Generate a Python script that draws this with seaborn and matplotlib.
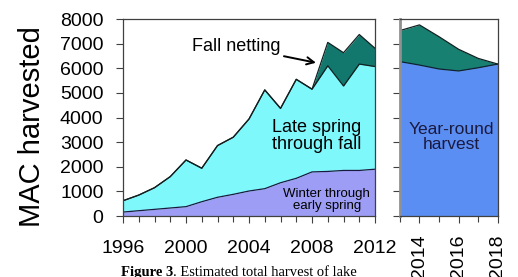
import numpy as np
import pandas as pd
import matplotlib
matplotlib.use('Agg')
import matplotlib.pyplot as plt
from matplotlib.ticker import MultipleLocator
import seaborn as sns

# Historical harvest (1996-2012), stacked layers
years = [1996, 1997, 1998, 1999, 2000, 2001, 2002, 2003, 2004, 2005, 2006,
         2007, 2008, 2009, 2010, 2011, 2012]
winter = [160, 215, 270, 325, 380, 580, 760, 880, 1015, 1110, 1350,
          1530, 1790, 1810, 1850, 1850, 1900]
late_spring_top = [620, 850, 1150, 1600, 2275, 1940, 2860, 3200, 3940, 5120, 4370,
                   5550, 5150, 6100, 5280, 6170, 6070]
total = [620, 850, 1150, 1600, 2275, 1940, 2860, 3200, 3940, 5120, 4370,
         5550, 5150, 7050, 6630, 7370, 6810]

# Projection (2013-2018)
proj_years = [2013, 2014, 2015, 2016, 2017, 2018]
year_round = [6270, 6130, 5970, 5890, 6020, 6170]
proj_total = [7530, 7760, 7280, 6770, 6400, 6170]

df = pd.DataFrame({'year': years, 'winter': winter,
                   'late': late_spring_top, 'total': total})
dfp = pd.DataFrame({'year': proj_years, 'yr': year_round, 'total': proj_total})

sns.set_style("ticks")
plt.rcParams['font.family'] = ['Liberation Sans', 'DejaVu Sans']
plt.rcParams['text.color'] = 'black'
plt.rcParams['xtick.labelcolor'] = 'black'
plt.rcParams['ytick.labelcolor'] = 'black'
plt.rcParams['axes.labelcolor'] = 'black'

fig = plt.figure(figsize=(5.18, 2.77), dpi=100)
ax1 = fig.add_axes([0.2375, 0.2202, 0.4865, 0.7112])
ax2 = fig.add_axes([0.772, 0.2202, 0.189, 0.7112])

c_winter = '#9d9df5'
c_late = '#7ff8fc'
c_fall = '#12786e'
c_blue = '#5b8ef2'
c_teal = '#178070'

# Left panel layers
ax1.fill_between(df['year'], 0, df['winter'], color=c_winter, lw=0)
ax1.fill_between(df['year'], df['winter'], df['late'], color=c_late, lw=0)
ax1.fill_between(df['year'], df['late'], df['total'], color=c_fall, lw=0)
sns.lineplot(data=df, x='year', y='winter', ax=ax1, color='#1a1a40', lw=0.9)
sns.lineplot(data=df, x='year', y='late', ax=ax1, color='#102020', lw=0.9)
sns.lineplot(data=df, x='year', y='total', ax=ax1, color='#102020', lw=0.9)

# Right panel layers
ax2.fill_between(dfp['year'], 0, dfp['yr'], color=c_blue, lw=0)
ax2.fill_between(dfp['year'], dfp['yr'], dfp['total'], color=c_teal, lw=0)
sns.lineplot(data=dfp, x='year', y='yr', ax=ax2, color='#10203a', lw=0.9)
sns.lineplot(data=dfp, x='year', y='total', ax=ax2, color='#102020', lw=0.9)

for ax in (ax1, ax2):
    ax.set_ylim(0, 8000)
    ax.yaxis.set_major_locator(MultipleLocator(1000))
    ax.set_xlabel('')
    ax.set_ylabel('')
    for s in ax.spines.values():
        s.set_visible(True)
        s.set_color('#404040')
        s.set_linewidth(0.9)
    ax.tick_params(axis='both', which='major', length=5, width=0.8,
                   color='#404040', labelsize=14, labelcolor='black')
    ax.tick_params(axis='x', which='minor', length=4, width=0.8, color='#404040')

ax1.set_xlim(1996, 2012)
ax1.xaxis.set_major_locator(MultipleLocator(4))
ax1.xaxis.set_minor_locator(MultipleLocator(1))
ax1.tick_params(axis='x', pad=12)
ax1.tick_params(axis='y', pad=9)
ax1.set_ylabel('MAC harvested', fontsize=21, color='black')
ax1.yaxis.set_label_coords(-0.305, 0.455)

ax2.set_xlim(2013, 2018)
ax2.xaxis.set_major_locator(MultipleLocator(2))
ax2.xaxis.set_minor_locator(MultipleLocator(1))
ax2.set_yticklabels([])
ax2.tick_params(axis='x', pad=8, labelrotation=90)
ax2.spines['left'].set_color('#909090')
ax2.spines['left'].set_linewidth(2)

# Annotations
ax1.annotate('Fall netting', xy=(2008.25, 6225), xytext=(2003.2, 6880),
             fontsize=13, ha='center', va='center',
             arrowprops=dict(arrowstyle='->', color='black', lw=1.4,
                             shrinkA=48, shrinkB=0))
ax1.text(2008.3, 3250, 'Late spring\nthrough fall', fontsize=13,
         ha='center', va='center', linespacing=1.0)
ax1.text(2008.93, 670, 'Winter through\nearly spring', fontsize=9.5,
         ha='center', va='center', linespacing=1.0)
ax2.text(2015.64, 3220, 'Year-round\nharvest', fontsize=12.5,
         ha='center', va='center', linespacing=1.0, color='#1a1a40')

# Caption: bold "Figure 3" followed by regular text
t1 = fig.text(0.233, 0.04, 'Figure 3', fontsize=10.5, fontweight='bold',
              family='Liberation Serif', ha='left', va='top')
renderer = fig.canvas.get_renderer()
bb = t1.get_window_extent(renderer=renderer)
x_next = bb.x1 / fig.bbox.width
fig.text(x_next, 0.04, '. Estimated total harvest of lake', fontsize=10.5,
         family='Liberation Serif', ha='left', va='top')

fig.savefig('out.png', dpi=100)
